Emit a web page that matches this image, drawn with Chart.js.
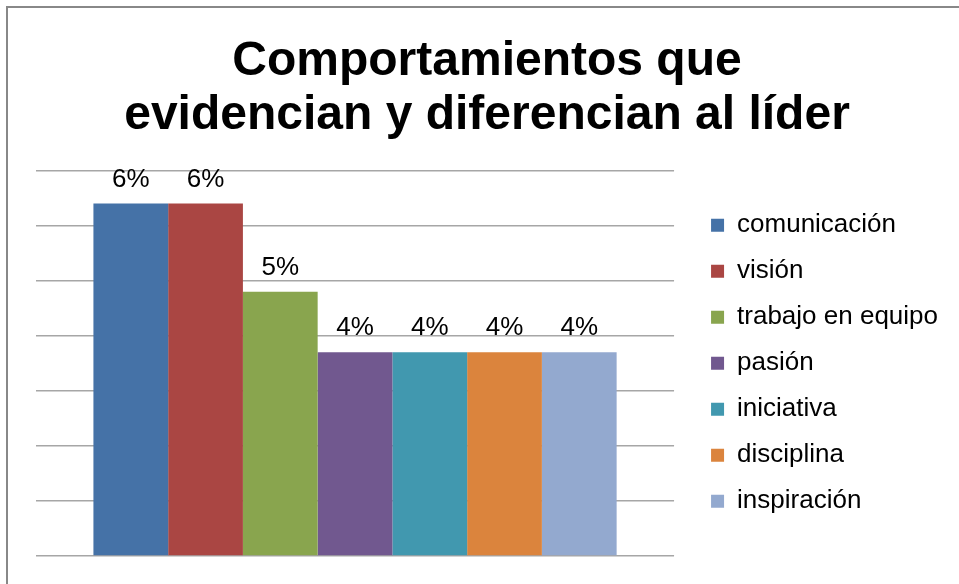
<!DOCTYPE html>
<html>
<head>
<meta charset="utf-8">
<script src="https://cdn.jsdelivr.net/npm/chart.js@4.4.1/dist/chart.umd.min.js"></script>
<style>
  html, body { margin: 0; padding: 0; background: #ffffff; }
  #wrap { position: relative; width: 959px; height: 584px; overflow: hidden; background: #ffffff; }
  #frame { position: absolute; left: 6px; top: 6px; width: 960px; height: 600px;
           border-left: 2px solid #888888; border-top: 2px solid #888888; box-sizing: border-box; }
  #c { position: absolute; left: 0; top: 0; }
</style>
</head>
<body>
<div id="wrap">
  <div id="frame"></div>
  <canvas id="c" width="959" height="584"></canvas>
</div>
<script>
// ---- data ----
const chartTitle = ['Comportamientos que', 'evidencian y diferencian al líder'];
const categories = [''];
const seriesNames = ['comunicación', 'visión', 'trabajo en equipo', 'pasión', 'iniciativa', 'disciplina', 'inspiración'];
const seriesValues = [0.064, 0.064, 0.048, 0.037, 0.037, 0.037, 0.037];
const seriesColors = ['#4572A7', '#AA4643', '#89A54E', '#71588F', '#4198AF', '#DB843D', '#93A9CF'];
const axisMin = 0;
const axisMax = 0.07;
const axisStep = 0.01;

const FONT = '"Liberation Sans", Arial, Helvetica, sans-serif';

const datasets = seriesNames.map((name, i) => ({
  label: name,
  data: [seriesValues[i]],
  backgroundColor: seriesColors[i],
  borderWidth: 0,
  categoryPercentage: 0.82,
  barPercentage: 1.0
}));

const valueLabels = {
  id: 'valueLabels',
  afterDatasetsDraw(chart) {
    const ctx = chart.ctx;
    ctx.save();
    ctx.font = '26px ' + FONT;
    ctx.fillStyle = '#000000';
    ctx.textAlign = 'center';
    ctx.textBaseline = 'alphabetic';
    chart.data.datasets.forEach((ds, i) => {
      const meta = chart.getDatasetMeta(i);
      meta.data.forEach((bar, j) => {
        const v = ds.data[j];
        ctx.fillText(Math.round(v * 100) + '%', bar.x, bar.y - 17);
      });
    });
    ctx.restore();
  }
};

new Chart(document.getElementById('c'), {
  type: 'bar',
  data: { labels: categories, datasets: datasets },
  options: {
    responsive: false,
    animation: false,
    devicePixelRatio: 1,
    layout: { padding: { left: 26, right: 11, top: 0, bottom: 28 } },
    plugins: {
      title: {
        display: true,
        text: chartTitle,
        color: '#000000',
        font: { family: FONT, size: 48, weight: 'bold', lineHeight: 1.12 },
        padding: { top: 35, bottom: 28 }
      },
      legend: {
        display: true,
        position: 'right',
        align: 'center',
        fullSize: false,
        maxWidth: 300,
        labels: {
          boxWidth: 13,
          boxHeight: 13,
          padding: 20,
          color: '#000000',
          font: { family: FONT, size: 26, lineHeight: 1.0 }
        }
      },
      tooltip: { enabled: false }
    },
    scales: {
      x: {
        type: 'category',
        display: false,
        offset: true
      },
      y: {
        type: 'linear',
        min: axisMin,
        max: axisMax,
        ticks: { display: false, stepSize: axisStep },
        grid: { color: '#a6a6a6', lineWidth: 1.5, drawTicks: false },
        border: { display: false },
        afterFit(scale) { scale.width = 10; }
      },
      spacer: {
        type: 'linear',
        position: 'right',
        display: true,
        ticks: { display: false },
        grid: { display: false, drawTicks: false },
        border: { display: false },
        afterFit(scale) { scale.width = 17; }
      }
    }
  },
  plugins: [valueLabels]
});
</script>
</body>
</html>
